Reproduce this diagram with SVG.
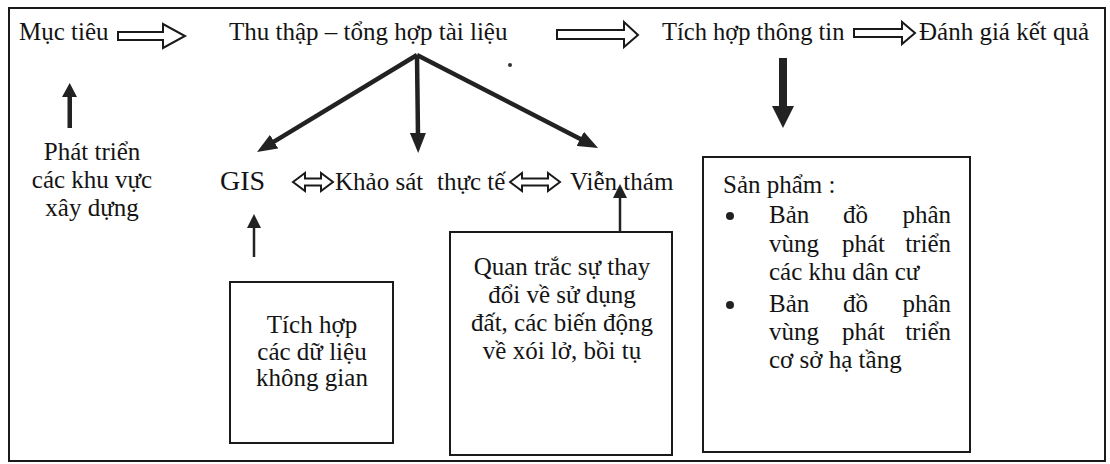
<svg xmlns="http://www.w3.org/2000/svg" width="1110" height="464" viewBox="0 0 1110 464">
  <style>
    text { font-family: "Liberation Serif", "Times New Roman", serif; font-size: 25px; fill: #141414; }
    .c { text-anchor: middle; }
    .e { text-anchor: end; }
    .box { fill: none; stroke: #1a1a1a; stroke-width: 2; }
    .hollow { fill: #fff; stroke: #1a1a1a; stroke-width: 2; stroke-linejoin: miter; }
    .thick { stroke: #222; stroke-width: 4.5; fill: none; }
    .thin { stroke: #222; stroke-width: 2.5; fill: none; }
    .solid { fill: #222; stroke: none; }
  </style>
  <defs>
    <marker id="bigHead" viewBox="0 0 20 16" refX="4" refY="8" markerWidth="20" markerHeight="16" markerUnits="userSpaceOnUse" orient="auto">
      <path d="M0,0 L20,8 L0,16 Z" fill="#222"/>
    </marker>
    <marker id="thinHead" viewBox="0 0 14 14" refX="2" refY="7" markerWidth="14" markerHeight="14" markerUnits="userSpaceOnUse" orient="auto">
      <path d="M0,0 L14,7 L0,14 Z" fill="#222"/>
    </marker>
  </defs>

  <rect x="0" y="0" width="1110" height="464" fill="#fff"/>
  <rect id="frame" x="9" y="8" width="1096" height="453" class="box"/>

  <!-- Top row -->
  <g id="muc-tieu"><text x="19" y="40">Mục tiêu</text></g>
  <g id="thu-thap"><text x="229" y="40">Thu thập – tổng hợp tài liệu</text></g>
  <g id="tich-hop-thong-tin"><text x="662" y="40" style="font-size:24.5px">Tích hợp thông tin</text></g>
  <g id="danh-gia"><text x="919" y="40">Đánh giá kết quả</text></g>

  <!-- Left column -->
  <g id="phat-trien">
    <text class="c" x="92" y="160">Phát triển</text>
    <text class="c" x="92" y="188">các khu vực</text>
    <text class="c" x="92" y="216">xây dựng</text>
  </g>

  <!-- Middle row -->
  <g id="gis"><text x="220" y="190" style="font-size:28px">GIS</text></g>
  <g id="khao-sat"><text x="335" y="190">Khảo sát</text><text x="437" y="190">thực tế</text></g>
  <g id="vien-tham"><text x="570" y="190">Viễn thám</text></g>

  <!-- Boxes -->
  <g id="tich-hop-du-lieu">
    <rect x="230" y="282" width="163" height="161" class="box"/>
    <text class="c" x="312" y="333">Tích hợp</text>
    <text class="c" x="312" y="360">các dữ liệu</text>
    <text class="c" x="312" y="386">không gian</text>
  </g>

  <g id="quan-trac">
    <rect x="450" y="232" width="222" height="223" class="box"/>
    <text class="c" x="562" y="275">Quan trắc sự thay</text>
    <text class="c" x="562" y="303">đổi về sử dụng</text>
    <text class="c" x="562" y="331">đất, các biến động</text>
    <text class="c" x="562" y="359">về xói lở, bồi tụ</text>
  </g>

  <g id="san-pham">
    <rect x="703" y="157" width="267" height="295" class="box"/>
    <text x="723" y="193">Sản phẩm :</text>
    <circle cx="730" cy="216" r="4" fill="#222"/>
    <text x="769" y="223">Bản</text><text x="843" y="223">đồ</text><text class="e" x="951" y="223">phân</text>
    <text x="769" y="252">vùng</text><text x="842" y="252">phát</text><text class="e" x="951" y="252">triển</text>
    <text x="769" y="280">các khu dân cư</text>
    <circle cx="730" cy="305" r="4" fill="#222"/>
    <text x="769" y="312">Bản</text><text x="843" y="312">đồ</text><text class="e" x="951" y="312">phân</text>
    <text x="769" y="340">vùng</text><text x="842" y="340">phát</text><text class="e" x="951" y="340">triển</text>
    <text x="769" y="368">cơ sở hạ tầng</text>
  </g>

  <!-- Connectors -->
  <g id="connectors">
    <!-- hollow right arrows -->
    <path class="hollow" d="M118,32 H163 V24 L185,36 L163,48 V40 H118 Z"/>
    <path class="hollow" d="M557,30 H624 V22 L638,35 L624,47 V39 H557 Z"/>
    <path class="hollow" d="M854,29 H902 V22 L915,33 L902,44 V37 H854 Z"/>
    <!-- hollow double arrows -->
    <path class="hollow" d="M293,182 L305,173 V178.5 H321 V173 L333,182 L321,191 V185.5 H305 V191 Z"/>
    <path class="hollow" d="M510,182 L522,173 V178.5 H548 V173 L560,182 L548,191 V185.5 H522 V191 Z"/>

    <!-- diagonal / vertical arrows from Thu thập -->
    <line class="thick" x1="417" y1="55" x2="270.7" y2="143.7" marker-end="url(#bigHead)"/>
    <line class="thick" x1="417" y1="55" x2="418" y2="137" marker-end="url(#bigHead)"/>
    <line class="thick" x1="417" y1="55" x2="583.8" y2="140.7" marker-end="url(#bigHead)"/>

    <!-- thick down arrow to Sản phẩm -->
    <path class="solid" d="M779,58 H787 V106 H794 L783,128 L772,106 H779 Z"/>

    <!-- up arrow to Mục tiêu -->
    <path class="solid" d="M67.5,128 H72 V97 H77 L69.7,83 L62,97 H67.5 Z"/>

    <!-- thin up arrows -->
    <line class="thin" x1="254" y1="257" x2="254" y2="226" marker-end="url(#thinHead)"/>
    <line class="thin" x1="620" y1="232" x2="620" y2="196" marker-end="url(#thinHead)"/>
  </g>

  <circle cx="510" cy="65" r="2" fill="#333"/>
</svg>
